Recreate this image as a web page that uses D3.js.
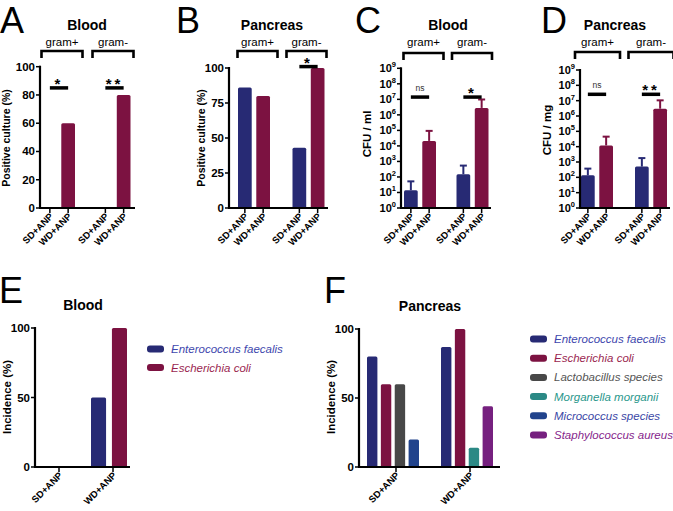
<!DOCTYPE html>
<html>
<head>
<meta charset="utf-8">
<script src="https://cdn.jsdelivr.net/npm/d3@7"></script>
<style>
body { margin: 0; background: #fff; }
text { font-family: "Liberation Sans", Arial, sans-serif; }
.tickLbl { font-weight: bold; font-size: 11.5px; }
.xLbl { font-weight: bold; font-size: 9.5px; }
.title { font-weight: bold; font-size: 14px; }
.yTitle { font-weight: bold; font-size: 11.5px; }
.gram { font-size: 11.5px; }
.panel { font-family: "Liberation Sans", sans-serif; font-size: 36px; }
.legend { font-style: italic; font-size: 11.5px; }
</style>
</head>
<body>
<div id="viz"></div>
<script>
groups = ['gram+', 'gram-'];
diets = ['SD+ANP', 'WD+ANP'];
dietColors = ['#272a74', '#7c1241'];

// positive culture (%), [gram+, gram-] x [SD, WD]
bloodCulture = [[0, 60], [0, 80]];
pancCulture = [[86, 80], [43, 100]];

// CFU means and upper error
bloodCFU = [[14, 2.1e4], [150, 2.8e6]];
bloodCFUerr = [[52, 9.3e4], [540, 9.8e6]];
pancCFU = [[135, 1.2e4], [500, 3.0e6]];
pancCFUerr = [[370, 4.5e4], [1800, 1.05e7]];

// significance marks and the level of their bars
sigA = ['*', '**'];   sigAlevel = [85, 85];
sigB = ['', '*'];     sigBlevel = [null, 101];
sigC = ['ns', '*'];   sigClevel = [1.4e7, 1.4e7];
sigD = ['ns', '**'];  sigDlevel = [2.6e7, 2.6e7];

linTicks100 = [0, 20, 40, 60, 80, 100];
linTicks25 = [0, 25, 50, 75, 100];
logExps = [0, 1, 2, 3, 4, 5, 6, 7, 8, 9];
incTicks = [0, 50, 100];

species = ['Enterococcus faecalis', 'Escherichia coli', 'Lactobacillus species',
		'Morganella morganii', 'Micrococcus species', 'Staphylococcus aureus'];
speciesColors = ['#272a74', '#7c1241', '#484848', '#2b8985', '#21438c', '#76207f'];
speciesText = ['#4047ad', '#9a1f4f', '#555555', '#2a978c', '#3b47a6', '#86268c'];

// incidence (%), SD and WD
bloodIncSD = [0, 0];
bloodIncWD = [50, 100];
pancIncSD = [80, 60, 60, 0, 20, 0];
pancIncWD = [87, 100, 0, 14, 0, 44];

svg = d3.select('#viz').append('svg')
	.attr('width', 673)
	.attr('height', 511);

function panelLetter(t, x, y) {
	svg.append('text').attr('class', 'panel').attr('x', x).attr('y', y).text(t);
}

function yTitle(t, x, y, size) {
	svg.append('text').attr('class', 'yTitle')
		.attr('text-anchor', 'middle')
		.style('font-size', size ? size + 'px' : null)
		.attr('transform', 'translate(' + x + ',' + y + ') rotate(-90)')
		.text(t);
}

function gramPanel(c) {
	var g = svg.append('g');
	var yScale = c.log
		? d3.scaleLog().domain([1, 1e9]).range([c.yBot, c.yTop])
		: d3.scaleLinear().domain([0, 100]).range([c.yBot, c.yTop]);
	var gx = d3.scalePoint().domain(groups).range(c.centers);
	var dx = d3.scaleBand().domain(diets).range([-16, 16]).paddingInner(0.25);

	// title + gram brackets
	g.append('text').attr('class', 'title').attr('text-anchor', 'middle')
		.attr('x', c.titleX).attr('y', 30).text(c.title);
	groups.forEach(function(gr, i) {
		var cx = gx(gr) + c.bShift[i];
		g.append('text').attr('class', 'gram').attr('text-anchor', 'middle')
			.attr('x', cx).attr('y', 46).text(gr);
		g.append('path')
			.attr('d', 'M' + (cx - c.bHalf) + ',' + (c.bTop + 7) + 'V' + c.bTop +
				'H' + (cx + c.bHalf) + 'V' + (c.bTop + 7))
			.attr('fill', 'none').attr('stroke', '#000').attr('stroke-width', 2.6);
	});

	// bars
	groups.forEach(function(gr, i) {
		diets.forEach(function(dt, j) {
			var v = c.data[i][j];
			if (!v) return;
			var x = gx(gr) + dx(dt);
			if (c.err) {
				var e = c.err[i][j], xm = x + dx.bandwidth() / 2;
				g.append('line').attr('x1', xm).attr('x2', xm)
					.attr('y1', yScale(v)).attr('y2', yScale(e))
					.attr('stroke', dietColors[j]).attr('stroke-width', 2);
				g.append('line').attr('x1', xm - 3.5).attr('x2', xm + 3.5)
					.attr('y1', yScale(e)).attr('y2', yScale(e))
					.attr('stroke', dietColors[j]).attr('stroke-width', 2);
			}
			g.append('rect')
				.attr('x', x).attr('width', dx.bandwidth())
				.attr('y', yScale(v)).attr('height', c.yBot - yScale(v))
				.attr('rx', 1.5)
				.attr('fill', dietColors[j]);
		});
	});

	// significance
	groups.forEach(function(gr, i) {
		if (!c.sig[i]) return;
		var ly = yScale(c.sigLevel[i]);
		var x1 = gx(gr) + dx('SD+ANP') + dx.bandwidth() / 2;
		var x2 = gx(gr) + dx('WD+ANP') + dx.bandwidth() / 2;
		g.append('line').attr('x1', x1).attr('x2', x2).attr('y1', ly).attr('y2', ly)
			.attr('stroke', '#000').attr('stroke-width', 3.5);
		var ns = c.sig[i] == 'ns';
		g.append('text').attr('text-anchor', 'middle')
			.attr('x', (x1 + x2) / 2).attr('y', ns ? ly - 6 : ly + 1)
			.attr('font-size', ns ? 8.5 : 15)
			.attr('font-weight', ns ? 'normal' : 'bold')
			.attr('fill', ns ? '#333' : '#000')
			.attr('letter-spacing', ns ? 0 : 3)
			.text(c.sig[i]);
	});

	// y axis
	g.append('line').attr('x1', c.x0).attr('x2', c.x0).attr('y1', c.yTop - 1).attr('y2', c.yBot)
		.attr('stroke', '#000').attr('stroke-width', 2.2);
	var ticks = c.log ? logExps.map(function(e) { return Math.pow(10, e); }) : c.ticks;
	ticks.forEach(function(t, i) {
		var ty = yScale(t);
		g.append('line').attr('x1', c.x0 - 4).attr('x2', c.x0).attr('y1', ty).attr('y2', ty)
			.attr('stroke', '#000').attr('stroke-width', 1.5);
		var lbl = g.append('text').attr('class', 'tickLbl').attr('text-anchor', 'end')
			.attr('x', c.x0 - 5).attr('y', ty + 4);
		if (c.log) {
			lbl.style('font-size', '11px');
			lbl.append('tspan').text('10');
			lbl.append('tspan').attr('dy', -5).style('font-size', '7.5px').text(logExps[i]);
		} else {
			lbl.text(t);
		}
	});

	// x axis
	g.append('line').attr('x1', c.x0 - 1).attr('x2', c.x1).attr('y1', c.yBot).attr('y2', c.yBot)
		.attr('stroke', '#000').attr('stroke-width', 2.2);
	groups.forEach(function(gr) {
		diets.forEach(function(dt) {
			var tx = gx(gr) + dx(dt) + dx.bandwidth() / 2;
			g.append('line').attr('x1', tx).attr('x2', tx).attr('y1', c.yBot).attr('y2', c.yBot + 5)
				.attr('stroke', '#000').attr('stroke-width', 1.5);
			g.append('text').attr('class', 'xLbl').attr('text-anchor', 'end')
				.attr('transform', 'translate(' + (tx + 4) + ',' + (c.yBot + 9) + ') rotate(-45)')
				.text(dt);
		});
	});

	yTitle(c.yLabel, c.yLabelX, c.yLabelY, c.yLabelSize);
}

function incidencePanel(c) {
	var g = svg.append('g');
	var yScale = d3.scaleLinear().domain([0, 100]).range([c.yBot, c.yTop]);
	var gx = d3.scalePoint().domain(diets).range(c.centers);

	g.append('text').attr('class', 'title').attr('text-anchor', 'middle')
		.attr('x', c.titleX).attr('y', c.titleY).text(c.title);

	[c.sd, c.wd].forEach(function(vals, i) {
		var present = [];
		vals.forEach(function(v, k) { if (v > 0) present.push(k); });
		var inner = d3.scaleBand().domain(d3.range(present.length))
			.range([-c.step * present.length / 2, c.step * present.length / 2])
			.paddingInner(c.pad);
		present.forEach(function(k, n) {
			g.append('rect')
				.attr('x', gx(diets[i]) + inner(n) + c.shift)
				.attr('width', inner.bandwidth())
				.attr('y', yScale(vals[k]))
				.attr('height', c.yBot - yScale(vals[k]))
				.attr('rx', 1.5)
				.attr('fill', speciesColors[k]);
		});
	});

	// axes
	g.append('line').attr('x1', c.x0).attr('x2', c.x0).attr('y1', c.yTop - 1).attr('y2', c.yBot)
		.attr('stroke', '#000').attr('stroke-width', 2.2);
	incTicks.forEach(function(t) {
		var ty = yScale(t);
		g.append('line').attr('x1', c.x0 - 4).attr('x2', c.x0).attr('y1', ty).attr('y2', ty)
			.attr('stroke', '#000').attr('stroke-width', 1.5);
		g.append('text').attr('class', 'tickLbl').attr('text-anchor', 'end')
			.attr('x', c.x0 - 5).attr('y', ty + 4).text(t);
	});
	g.append('line').attr('x1', c.x0 - 1).attr('x2', c.x1).attr('y1', c.yBot).attr('y2', c.yBot)
		.attr('stroke', '#000').attr('stroke-width', 2.2);
	diets.forEach(function(dt) {
		var tx = gx(dt);
		g.append('line').attr('x1', tx).attr('x2', tx).attr('y1', c.yBot).attr('y2', c.yBot + 5)
			.attr('stroke', '#000').attr('stroke-width', 1.5);
		g.append('text').attr('class', 'xLbl').attr('text-anchor', 'end')
			.attr('transform', 'translate(' + (tx + 4) + ',' + (c.yBot + 9) + ') rotate(-45)')
			.text(dt);
	});

	// legend
	c.legend.forEach(function(k, n) {
		var ly = c.legY + n * c.legStep;
		g.append('rect').attr('x', c.legX).attr('y', ly - 3.5)
			.attr('width', 17).attr('height', 7).attr('rx', 3)
			.attr('fill', speciesColors[k]);
		g.append('text').attr('class', 'legend')
			.attr('x', c.legX + 24).attr('y', ly + 4)
			.attr('fill', speciesText[k]).text(species[k]);
	});

	yTitle('Incidence (%)', c.yLabelX, c.yLabelY);
}

panelLetter('A', 0, 33);
panelLetter('B', 176, 33);
panelLetter('C', 355, 33);
panelLetter('D', 541, 33);
panelLetter('E', -1, 303);
panelLetter('F', 324, 303);

gramPanel({ x0: 40, x1: 135, yTop: 66.7, yBot: 208, centers: [59, 114.5],
	data: bloodCulture, ticks: linTicks100, sig: sigA, sigLevel: sigAlevel,
	title: 'Blood', titleX: 87, bHalf: 20.5, bShift: [3, -1.5], bTop: 51,
	yLabel: 'Positive culture (%)', yLabelX: 10, yLabelY: 138, yLabelSize: 10.5 });

gramPanel({ x0: 229, x1: 328, yTop: 68, yBot: 208, centers: [254, 308.5],
	data: pancCulture, ticks: linTicks25, sig: sigB, sigLevel: sigBlevel,
	title: 'Pancreas', titleX: 272, bHalf: 20, bShift: [3.5, -2], bTop: 51,
	yLabel: 'Positive culture (%)', yLabelX: 205, yLabelY: 138, yLabelSize: 10.5 });

gramPanel({ x0: 401, x1: 491, yTop: 68.3, yBot: 208, centers: [420, 472.5], log: true,
	data: bloodCFU, err: bloodCFUerr, sig: sigC, sigLevel: sigClevel,
	title: 'Blood', titleX: 448, bHalf: 20, bShift: [3.5, -0.5], bTop: 53,
	yLabel: 'CFU / ml', yLabelX: 371, yLabelY: 134 });

gramPanel({ x0: 580, x1: 670, yTop: 70, yBot: 208, centers: [597, 651], log: true,
	data: pancCFU, err: pancCFUerr, sig: sigD, sigLevel: sigDlevel,
	title: 'Pancreas', titleX: 615, bHalf: 22.5, bShift: [0.5, 0], bTop: 52,
	yLabel: 'CFU / mg', yLabelX: 551, yLabelY: 130 });

incidencePanel({ x0: 35, x1: 130, yTop: 328, yBot: 467, centers: [59, 113],
	sd: bloodIncSD, wd: bloodIncWD, step: 18, pad: 0.28, shift: -4,
	title: 'Blood', titleX: 83, titleY: 310,
	legend: [0, 1], legX: 147, legY: 349, legStep: 18.5,
	yLabelX: 11, yLabelY: 397 });

incidencePanel({ x0: 359, x1: 500, yTop: 329, yBot: 467, centers: [396, 470],
	sd: pancIncSD, wd: pancIncWD, step: 13, pad: 0.25, shift: -3,
	title: 'Pancreas', titleX: 430, titleY: 311,
	legend: [0, 1, 2, 3, 4, 5], legX: 530, legY: 339, legStep: 19.2,
	yLabelX: 335, yLabelY: 397 });
</script>
</body>
</html>
